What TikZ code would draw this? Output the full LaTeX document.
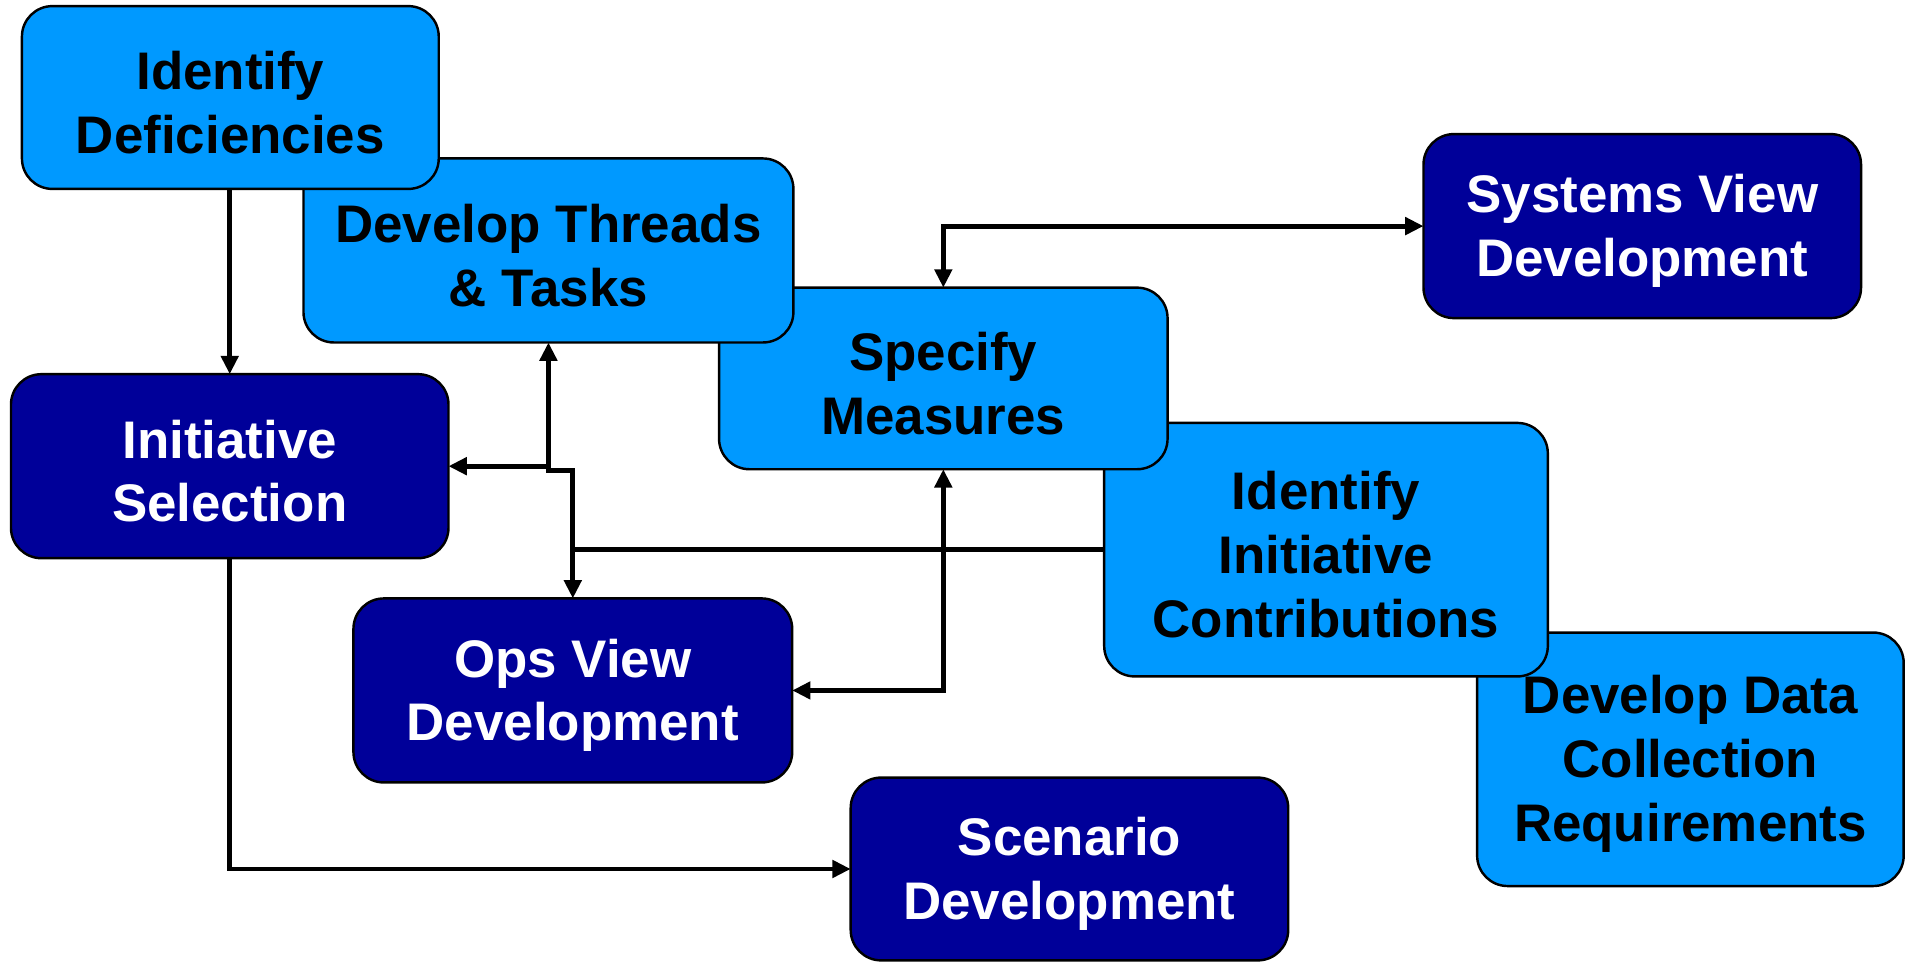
\documentclass[tikz,border=0pt]{standalone}
\usepackage{fontspec}
\setmainfont{Liberation Sans}
\usetikzlibrary{arrows.meta}
\definecolor{lightbox}{HTML}{0099FF}
\definecolor{darkbox}{HTML}{000099}
\tikzset{
  boxbase/.style={draw=black, line width=1pt, rounded corners=12.5pt, outer sep=0pt, inner sep=0pt},
  lbox/.style={boxbase, fill=lightbox},
  dbox/.style={boxbase, fill=darkbox},
  txtbase/.style={inner sep=0pt, align=center, font=\fontsize{21.7pt}{26.2pt}\selectfont\bfseries},
  ltxt/.style={txtbase, text=black},
  dtxt/.style={txtbase, text=white},
  conn/.style={line width=2pt, draw=black},
  tip/.style={},
  arr/.style={conn, -{Triangle[length=7.5pt,width=7pt]}},
  darr/.style={conn, {Triangle[length=7.5pt,width=7pt]}-{Triangle[length=7.5pt,width=7pt]}}
}
\begin{document}
\begin{tikzpicture}[x=0.5pt,y=-0.5pt]
\useasboundingbox (0,0) rectangle (1568,789);
\fill[white] (0,0) rectangle (1568,789);
% light boxes, back to front
\node[lbox, minimum width=175pt, minimum height=104pt] (devData) at (1387,623) {};
\node[ltxt] (devDataT) at ([yshift=-2pt]devData.center) {Develop Data\\Collection\\Requirements};
\node[lbox, minimum width=182pt, minimum height=104pt] (idInit) at (1088,451) {};
\node[ltxt] (idInitT) at ([yshift=-2pt]idInit.center) {Identify\\Initiative\\Contributions};
\node[lbox, minimum width=184pt, minimum height=74.5pt] (specM) at (774,310.5) {};
\node[ltxt] (specMT) at ([yshift=-2pt]specM.center) {Specify\\Measures};
\node[lbox, minimum width=201pt, minimum height=75.5pt] (devThr) at (450,205.5) {};
\node[ltxt] (devThrT) at ([yshift=-2pt]devThr.center) {Develop Threads\\\& Tasks};
\node[lbox, minimum width=171pt, minimum height=75pt] (idDef) at (189,80) {};
\node[ltxt] (idDefT) at ([yshift=-2pt]idDef.center) {Identify\\Deficiencies};
% dark boxes
\node[dbox, minimum width=179.5pt, minimum height=75.5pt] (sysV) at (1347.5,185.5) {};
\node[dtxt] (sysVT) at ([yshift=-2pt]sysV.center) {Systems View\\Development};
\node[dbox, minimum width=179.5pt, minimum height=75.5pt] (initSel) at (188.5,382.5) {};
\node[dtxt] (initSelT) at ([yshift=-2pt]initSel.center) {Initiative\\Selection};
\node[dbox, minimum width=180pt, minimum height=75.5pt] (opsV) at (470,566.5) {};
\node[dtxt] (opsVT) at ([yshift=-2pt]opsV.center) {Ops View\\Development};
\node[dbox, minimum width=179.5pt, minimum height=75pt] (scen) at (877.5,713) {};
\node[dtxt] (scenT) at ([yshift=-2pt]scen.center) {Scenario\\Development};
% junctions
\coordinate (j1) at (devThr.south |- initSel.east);
\coordinate (j2) at (450,386);
% connectors
\draw[arr] (idDef.south -| initSel.north) -- (initSel.north);
\draw[arr] (initSel.south) |- (scen.west);
\draw[darr] (specM.north) |- (sysV.west);
\draw[darr] (specM.south) |- (opsV.east);
\draw[darr] (devThr.south) -- (j2) -| (opsV.north);
\draw[arr] (j1) -- (initSel.east);
\draw[conn] (idInit.west) -- (idInit.west -| opsV.north);
\end{tikzpicture}
\end{document}
